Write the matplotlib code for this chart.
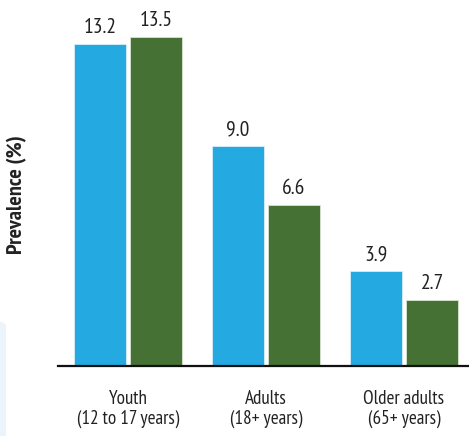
import numpy as np
import matplotlib
matplotlib.use("Agg")
import matplotlib.pyplot as plt
from matplotlib.patches import FancyBboxPatch

# =========================
# DATA
# =========================

categories = ["Youth\n(12 to 17 years)", "Adults\n(18+ years)", "Older adults\n(65+ years)"]
series_a = [13.2, 9.0, 3.9]
series_b = [13.5, 6.6, 2.7]
value_labels_a = ["13.2", "9.0", "3.9"]
value_labels_b = ["13.5", "6.6", "2.7"]

BLUE = "#24A9E1"
GREEN = "#467134"

plt.rcParams["font.family"] = ["PT Sans Narrow", "DejaVu Sans"]

# =========================
# FIGURE
# =========================

fig = plt.figure(figsize=(4.69, 4.36), dpi=100)
ax = fig.add_axes([58 / 469, 70 / 436, 411 / 469, 366 / 436])

x = np.arange(len(categories))
width = 0.377
offset = 0.203

bars_a = ax.bar(x - offset, series_a, width, color=BLUE, edgecolor="#D8EEF8", linewidth=0.6)
bars_b = ax.bar(x + offset, series_b, width, color=GREEN, edgecolor="#D8E4D2", linewidth=0.6)

for bar, lab in zip(bars_a, value_labels_a):
    ax.annotate(lab, (bar.get_x() + bar.get_width() / 2, bar.get_height()),
                xytext=(0, 5), textcoords="offset points",
                ha="center", va="bottom", fontsize=15.5, color="#222222")
for bar, lab in zip(bars_b, value_labels_b):
    ax.annotate(lab, (bar.get_x() + bar.get_width() / 2, bar.get_height()),
                xytext=(0, 5), textcoords="offset points",
                ha="center", va="bottom", fontsize=15.5, color="#222222")

ax.set_xlim(-0.507, 2.471)
ax.set_ylim(0, 15)

ax.set_xticks(x)
ax.set_xticklabels(categories, fontsize=13.8, color="#222222", linespacing=1.15)
ax.tick_params(axis="x", length=0, pad=17)
ax.set_yticks([])

for side in ["top", "right", "left"]:
    ax.spines[side].set_visible(False)
ax.spines["bottom"].set_linewidth(1.6)
ax.spines["bottom"].set_color("#111111")

fig.text(17 / 469, 1 - 195 / 436, "Prevalence (%)", rotation=90,
         ha="center", va="center", fontsize=16, fontweight="bold", color="#222222")

# faint panel edge at lower left
fig.patches.append(FancyBboxPatch((-10 / 469, -10 / 436), 16 / 469, 124 / 436,
                                  boxstyle="round,pad=0,rounding_size=0.012",
                                  transform=fig.transFigure, facecolor="#EAF4FA",
                                  edgecolor="none", zorder=0))

fig.savefig("out.png", dpi=100)
